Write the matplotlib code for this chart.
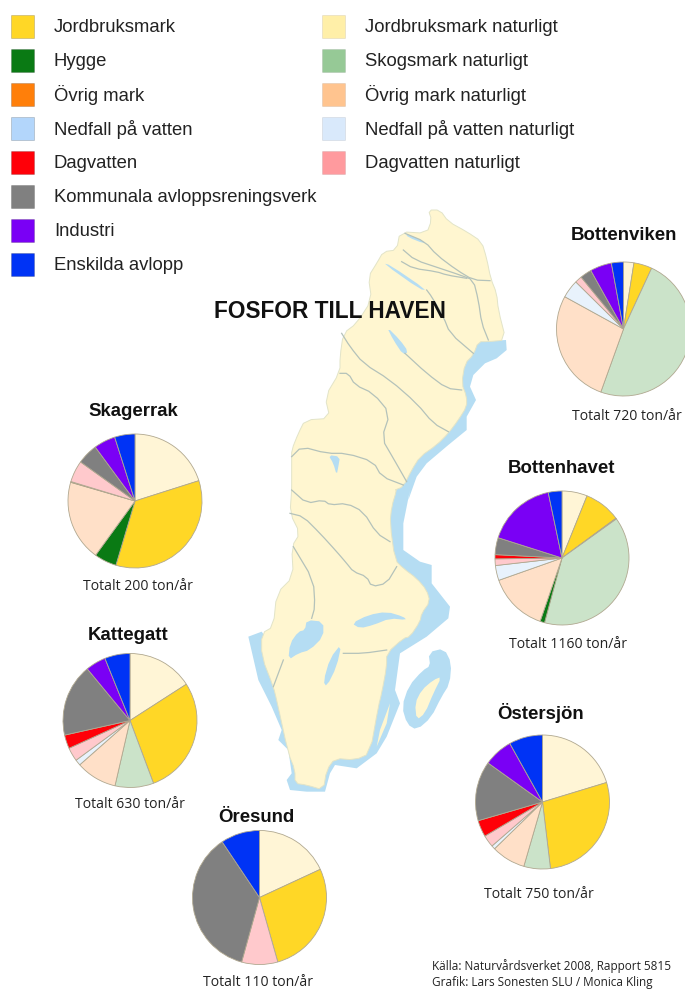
import matplotlib
matplotlib.use("Agg")
import matplotlib.pyplot as plt
from matplotlib.patches import Polygon, Rectangle
import numpy as np

W, H = 685, 989

# === Legend ===
LEGEND_LEFT = ["Jordbruksmark", "Hygge", "Övrig mark", "Nedfall på vatten", "Dagvatten",
               "Kommunala avloppsreningsverk", "Industri", "Enskilda avlopp"]
LEGEND_LEFT_COLORS = ["#FFD726", "#0A7A14", "#FF7F0A", "#B3D6FB", "#FF0008", "#808080", "#7A00F5", "#0033F5"]
LEGEND_RIGHT = ["Jordbruksmark naturligt", "Skogsmark naturligt", "Övrig mark naturligt",
                "Nedfall på vatten naturligt", "Dagvatten naturligt"]
LEGEND_RIGHT_COLORS = ["#FFEFA8", "#96C996", "#FFC48F", "#D9E9FB", "#FF9A9E"]

# === Pie data, percent, clockwise from the top ===
SLICE_COLORS = {
    "jord_nat": "#FFF5D6", "jord": "#FFD726", "skog_nat": "#CBE3C9", "hygge": "#0A7A14",
    "ovrig_nat": "#FFE0C8", "ovrig": "#A8643C", "ned_nat": "#E8F2FC", "dag_nat": "#FFC9CC", "dag": "#FF0008",
    "kommunal": "#808080", "industri": "#7A00F5", "enskilda": "#0033F5",
}

bottenviken_keys = ["jord_nat", "jord", "skog_nat", "ovrig_nat", "ned_nat", "dag_nat", "kommunal", "industri", "enskilda"]
bottenviken_vals = [2.5, 4.4, 48.6, 27.5, 4.4, 1.7, 2.8, 5.2, 2.9]

bottenhavet_keys = ["jord_nat", "jord", "ovrig", "skog_nat", "hygge", "ovrig_nat", "ned_nat", "dag_nat", "dag", "kommunal", "industri", "enskilda"]
bottenhavet_vals = [6.1, 8.8, 0.2, 39.1, 1.1, 14.3, 3.6, 1.6, 1.0, 4.1, 16.8, 3.3]

ostersjon_keys = ["jord_nat", "jord", "skog_nat", "ovrig_nat", "ned_nat", "dag_nat", "dag", "kommunal", "industri", "enskilda"]
ostersjon_vals = [20.3, 27.8, 6.4, 8.2, 0.9, 2.9, 4.0, 14.4, 7.0, 8.1]

skagerrak_keys = ["jord_nat", "jord", "hygge", "ovrig_nat", "ovrig", "dag_nat", "kommunal", "industri", "enskilda"]
skagerrak_vals = [20.1, 34.5, 5.4, 19.5, 0.2, 5.2, 5.0, 5.2, 4.9]

kattegatt_keys = ["jord_nat", "jord", "skog_nat", "ovrig_nat", "ned_nat", "dag_nat", "dag", "kommunal", "industri", "enskilda"]
kattegatt_vals = [15.9, 28.4, 9.3, 9.9, 1.4, 3.3, 3.3, 17.5, 4.9, 6.1]

oresund_keys = ["jord_nat", "jord", "dag_nat", "kommunal", "enskilda"]
oresund_vals = [18.1, 27.5, 8.7, 36.3, 9.4]

# name, total label, keys, values, centre x, centre y, title x, title y, total x, total y
PIES = [
    ("Bottenviken", "Totalt 720 ton/år", bottenviken_keys, bottenviken_vals, 623.5, 329, 624, 236, 627, 417),
    ("Bottenhavet", "Totalt 1160 ton/år", bottenhavet_keys, bottenhavet_vals, 562, 558, 562, 468.5, 568, 644),
    ("Östersjön", "Totalt 750 ton/år", ostersjon_keys, ostersjon_vals, 542.5, 802, 541, 713, 539, 894),
    ("Skagerrak", "Totalt 200 ton/år", skagerrak_keys, skagerrak_vals, 135, 501, 133, 411, 138, 587),
    ("Kattegatt", "Totalt 630 ton/år", kattegatt_keys, kattegatt_vals, 130, 720.5, 128, 635, 130, 805),
    ("Öresund", "Totalt 110 ton/år", oresund_keys, oresund_vals, 259.5, 897.5, 256, 817, 258, 982),
]
PIE_RADIUS = 67

# === Map outline, traced in crop coordinates (3x) ===
north_land = [(565, 30), (600, 30), (625, 65), (680, 95), (725, 125), (740, 175), (752, 235), (770, 280),
              (775, 330), (798, 420), (745, 425), (715, 425), (700, 465), (675, 490), (665, 550), (680, 590),
              (680, 620), (655, 660), (625, 700), (590, 735), (540, 770), (515, 810), (490, 860), (465, 870)]
south_land = [(470, 0), (455, 50), (450, 100), (465, 210), (490, 235), (530, 265), (560, 300), (570, 335),
              (545, 370), (540, 395), (510, 440), (490, 445), (440, 490), (440, 530), (425, 610), (415, 650),
              (390, 790), (345, 810), (285, 805), (260, 840), (250, 900), (200, 885), (165, 880), (165, 840),
              (145, 790), (110, 630), (100, 590), (65, 500), (65, 430), (100, 410), (110, 310), (160, 260),
              (155, 170), (180, 130), (150, 70), (155, 0)]
north_land_w = [(155, 830), (155, 780), (155, 750), (175, 700), (195, 660), (270, 655), (255, 590), (300, 515),
                (300, 470), (310, 400), (350, 370), (395, 300), (385, 230), (410, 190), (430, 155), (470, 150),
                (480, 95), (560, 100), (575, 60)]

# sea band: outer edge, then back north well inside the land
north_sea = [(715, 425), (798, 420), (800, 450), (770, 475), (735, 490), (700, 525), (690, 560), (708, 600),
             (680, 650), (680, 690), (625, 735), (560, 790), (530, 830), (505, 900)]
south_sea = [(510, 0), (490, 100), (490, 180), (540, 215), (575, 225), (575, 280), (630, 350), (625, 385),
             (560, 440), (480, 490), (465, 600), (480, 640), (440, 740), (410, 790), (350, 835), (285, 825),
             (270, 850), (255, 905), (200, 905), (150, 900), (140, 870), (155, 850), (145, 780), (115, 750),
             (125, 720), (95, 650), (55, 570), (25, 440), (65, 425), (120, 500), (300, 400), (350, 100)]
north_sea_back = [(400, 800), (550, 620), (650, 450)]
gotland_sea = [(570, 490), (610, 480), (630, 520), (625, 580), (600, 620), (570, 680), (530, 715), (505, 700),
               (490, 650), (510, 590), (550, 545), (575, 530)]
gotland_land = [(580, 570), (605, 560), (580, 610), (555, 670), (530, 690), (525, 640), (545, 600)]
oland_land = [(450, 640), (440, 700), (410, 770), (420, 720)]

north_lakes = [
    [(430, 190), (450, 195), (560, 270), (540, 268)],
    [(440, 380), (480, 420), (505, 455), (490, 465), (460, 420)],
    [(265, 765), (300, 770), (295, 800), (290, 825), (280, 790)],
    [(495, 100), (555, 125), (550, 130), (505, 112)],
]
south_lakes = [
    [(200, 390), (250, 395), (250, 440), (210, 480), (175, 490), (145, 510), (150, 460), (175, 425), (195, 420)],
    [(305, 460), (290, 530), (260, 590), (250, 575), (270, 505)],
    [(335, 400), (385, 375), (440, 365), (490, 380), (500, 390), (450, 385), (400, 405), (360, 415)],
]
north_rivers = [
    [(495, 100), (555, 125), (590, 165), (650, 210), (700, 240), (750, 242)],
    [(490, 150), (525, 180), (600, 205), (660, 225), (700, 240), (715, 300), (725, 370), (745, 420)],
    [(485, 185), (520, 205), (590, 215), (620, 225), (680, 235)],
    [(560, 270), (575, 290), (610, 350), (630, 400), (700, 460)],
    [(495, 460), (560, 520), (620, 565), (665, 570)],
    [(305, 400), (330, 440), (370, 490), (450, 540), (530, 610), (580, 670), (625, 695)],
    [(300, 520), (325, 520), (345, 555), (400, 580), (450, 640), (425, 715), (460, 775), (500, 845)],
    [(155, 770), (185, 740), (260, 760), (320, 760), (400, 785), (425, 830), (490, 855)],
]
south_rivers = [
    [(155, 0), (200, 40), (250, 30), (270, 45), (320, 40), (370, 65), (410, 130), (450, 155)],
    [(150, 70), (190, 80), (240, 130), (290, 185), (320, 220), (340, 245), (380, 260), (395, 290), (440, 280), (470, 230)],
    [(160, 170), (220, 270), (225, 350), (215, 385)],
    [(310, 490), (370, 490), (440, 480)],
    [(130, 510), (100, 590)],
]


def from_north(points):
    return np.array(points) / 3 + [240, 200]


def from_south(points):
    return np.array(points) / 3 + [240, 490]


def soften(xy, closed=True):
    # one corner cutting pass, the traced outline is too angular otherwise
    nxt = np.roll(xy, -1, axis=0) if closed else xy[1:]
    cur = xy if closed else xy[:-1]
    out = np.empty((len(cur) * 2, 2))
    out[0::2] = cur * 0.75 + nxt * 0.25
    out[1::2] = cur * 0.25 + nxt * 0.75
    if not closed:
        out = np.vstack([xy[0], out, xy[-1]])
    return out


fig = plt.figure(figsize=(W / 100, H / 100), dpi=100)
ax = fig.add_axes([0, 0, 1, 1])
ax.set_xlim(0, W)
ax.set_ylim(H, 0)
ax.set_axis_off()

# Map
LAND = "#FFF6D0"
SEA = "#B5DDF3"
RIVER = "#B4C2BA"

sea = np.vstack([from_north(north_sea), from_south(south_sea), from_north(north_sea_back)])
ax.add_patch(Polygon(sea, closed=True, fc=SEA, ec="none", zorder=1))
ax.add_patch(Polygon(soften(from_south(gotland_sea)), closed=True, fc=SEA, ec=SEA, lw=2, zorder=1))

land = np.vstack([from_north(north_land), from_south(south_land), from_north(north_land_w)])
ax.add_patch(Polygon(soften(land), closed=True, fc=LAND, ec="#E2E4C8", lw=0.7, zorder=2))
ax.add_patch(Polygon(soften(from_south(gotland_land)), closed=True, fc=LAND, ec="none", zorder=2))
ax.add_patch(Polygon(from_south(oland_land), closed=True, fc=LAND, ec="none", zorder=2))

for lake in north_lakes:
    ax.add_patch(Polygon(soften(from_north(lake)), closed=True, fc=SEA, ec="none", zorder=3))
for lake in south_lakes:
    ax.add_patch(Polygon(soften(from_south(lake)), closed=True, fc=SEA, ec="none", zorder=3))
for river in north_rivers:
    xy = soften(from_north(river), closed=False)
    ax.plot(xy[:, 0], xy[:, 1], color=RIVER, lw=0.9, zorder=4)
for river in south_rivers:
    xy = soften(from_south(river), closed=False)
    ax.plot(xy[:, 0], xy[:, 1], color=RIVER, lw=0.9, zorder=4)

# Legend
sans = "Liberation Sans"
for i, (label, color) in enumerate(zip(LEGEND_LEFT, LEGEND_LEFT_COLORS)):
    y = 26 + i * 34.1
    ax.add_patch(Rectangle((11, y - 11.5), 23, 23, fc=color, ec="#00000030", lw=0.6, zorder=5))
    ax.text(54, y + 1, label, family=sans, fontsize=13.35, color="#222222", va="center", ha="left", zorder=6)
for i, (label, color) in enumerate(zip(LEGEND_RIGHT, LEGEND_RIGHT_COLORS)):
    y = 26 + i * 34.1
    ax.add_patch(Rectangle((322, y - 11.5), 23, 23, fc=color, ec="#00000015", lw=0.6, zorder=5))
    ax.text(365, y + 1, label, family=sans, fontsize=13.35, color="#222222", va="center", ha="left", zorder=6)

ax.text(329.5, 311, "FOSFOR TILL HAVEN", family=sans, fontweight="bold", fontsize=16.3,
        color="#111111", ha="center", va="center", zorder=6)

# Pies
for name, total, keys, vals, cx, cy, tx, ty, sx, sy in PIES:
    pie_ax = fig.add_axes([(cx - PIE_RADIUS) / W, 1 - (cy + PIE_RADIUS) / H,
                           2 * PIE_RADIUS / W, 2 * PIE_RADIUS / H])
    pie_ax.pie(vals, colors=[SLICE_COLORS[k] for k in keys], startangle=90, counterclock=False, radius=1,
               wedgeprops={"edgecolor": "#B0A890", "linewidth": 0.6})
    pie_ax.set_xlim(-1, 1)
    pie_ax.set_ylim(-1, 1)
    ax.text(tx, ty, name, family=sans, fontweight="bold", fontsize=13.4, color="#111111",
            ha="center", va="center", zorder=6)
    ax.text(sx, sy, total, family="Open Sans", fontsize=10.1, color="#222222",
            ha="center", va="center", zorder=6)

# Source
ax.text(432, 966.5, "Källa: Naturvårdsverket 2008, Rapport 5815", family="Open Sans", fontsize=8.5,
        color="#222222", ha="left", va="center", zorder=6)
ax.text(432, 982.5, "Grafik: Lars Sonesten SLU / Monica Kling", family="Open Sans", fontsize=8.5,
        color="#222222", ha="left", va="center", zorder=6)

fig.savefig("out.png", dpi=100)
plt.close(fig)
